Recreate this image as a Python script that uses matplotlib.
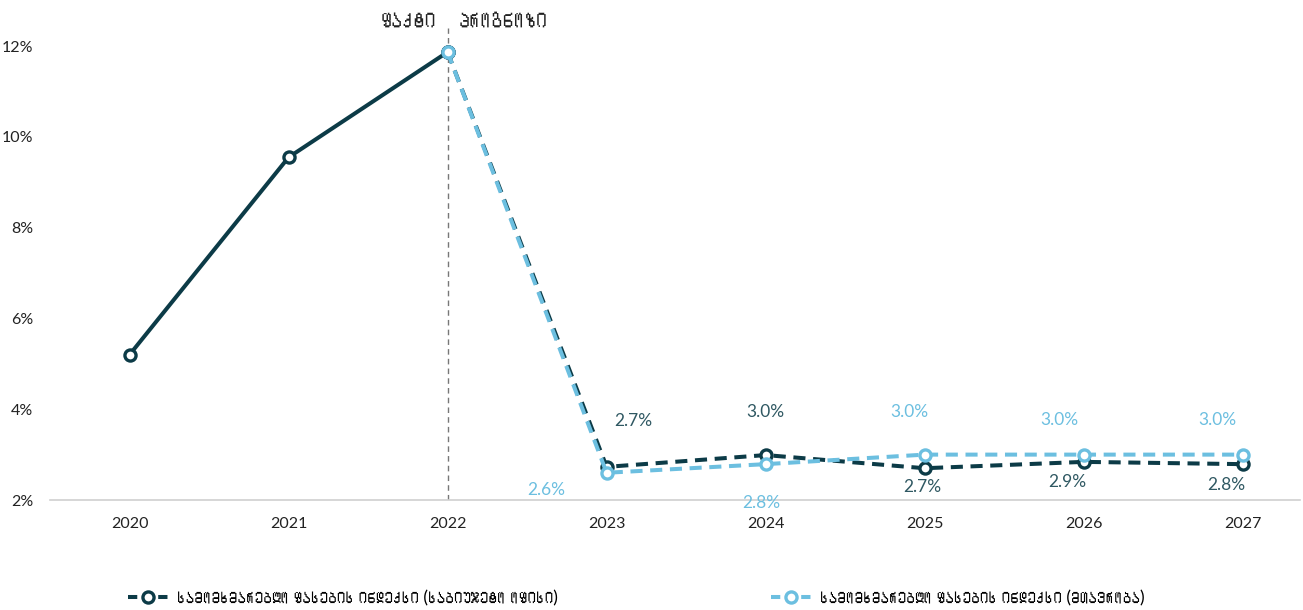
import matplotlib
matplotlib.use("Agg")
import matplotlib.pyplot as plt
from matplotlib import font_manager
from matplotlib.ft2font import FT2Font
from matplotlib.lines import Line2D

# Data
years = ["2020", "2021", "2022", "2023", "2024", "2025", "2026", "2027"]
cpi_budget_office = [5.2, 9.55, 11.87, 2.73, 2.99, 2.7, 2.84, 2.79]
cpi_budget_labels = ["", "", "", "2.7%", "3.0%", "2.7%", "2.9%", "2.8%"]
cpi_government = [11.87, 2.6, 2.79, 3.0, 3.0, 3.0]
cpi_government_labels = ["", "2.6%", "2.8%", "3.0%", "3.0%", "3.0%"]
yticks = [2, 4, 6, 8, 10, 12]

fact_text = "ᲤᲐᲥᲢᲘ"
forecast_text = "ᲞᲠᲝᲒᲜᲝᲖᲘ"
legend_budget = "ᲡᲐᲛᲝᲛᲮᲛᲐᲠᲔᲑᲚᲝ ᲤᲐᲡᲔᲑᲘᲡ ᲘᲜᲓᲔᲥᲡᲘ (ᲡᲐᲑᲘᲣᲯᲔᲢᲝ ᲝᲤᲘᲡᲘ)"
legend_gov = "ᲡᲐᲛᲝᲛᲮᲛᲐᲠᲔᲑᲚᲝ ᲤᲐᲡᲔᲑᲘᲡ ᲘᲜᲓᲔᲥᲡᲘ (ᲛᲗᲐᲕᲠᲝᲑᲐ)"


def find_mtavruli_family():
    # look for an installed font with Georgian capitals (Mtavruli)
    for f in font_manager.fontManager.ttflist:
        try:
            if 0x1C9B in FT2Font(f.fname).get_charmap():
                return f.name
        except Exception:
            pass
    return None


mtav_family = find_mtavruli_family()


def georgian(s):
    # no Mtavruli font: write the same letters in Mkhedruli
    if mtav_family:
        return s
    return "".join(chr(ord(c) - 0xBC0) if 0x1C90 <= ord(c) <= 0x1CBA else c for c in s)


DARK = "#0c3b47"
LIGHT = "#6cbfe0"
DARK_LBL = "#2f5862"
LW = 2.9

families = ["Lato", "DejaVu Sans"]
if mtav_family:
    families.insert(1, mtav_family)
plt.rcParams["font.family"] = families

fig = plt.figure(figsize=(13.03, 6.10), dpi=100)
ax = fig.add_axes([50 / 1303, 1 - 500 / 610, 1250 / 1303, 472 / 610])

x = list(range(len(years)))
x_fact = x[:3]
x_fc = x[2:]

marker_kw = dict(marker="o", markersize=8, markerfacecolor="white", markeredgewidth=2.4)

ax.plot(x_fact, cpi_budget_office[:3], color=DARK, lw=LW, **marker_kw,
        markeredgecolor=DARK, solid_capstyle="butt", zorder=3)
ax.plot(x_fc, cpi_budget_office[2:], color=DARK, lw=LW, dashes=(3.0, 1.9),
        **marker_kw, markeredgecolor=DARK, zorder=3)
ax.plot(x_fc, cpi_government, color=LIGHT, lw=LW, dashes=(3.0, 1.9),
        **marker_kw, markeredgecolor=LIGHT, zorder=4)

# Data labels (pixel offsets)
dark_off = [None, None, None, (27, 46), (0, 43), (-2, -19), (-16, -20), (-16, -21)]
for xi, v, lab, off in zip(x, cpi_budget_office, cpi_budget_labels, dark_off):
    if lab:
        ax.annotate(lab, (xi, v), xytext=off, textcoords="offset pixels",
                    ha="center", va="center", fontsize=12.5, color=DARK_LBL)
light_off = [None, (-60, -17), (-4, -39), (-15, 43), (-24, 35), (-25, 35)]
for xi, v, lab, off in zip(x_fc, cpi_government, cpi_government_labels, light_off):
    if lab:
        ax.annotate(lab, (xi, v), xytext=off, textcoords="offset pixels",
                    ha="center", va="center", fontsize=12.5, color=LIGHT)

# fact / forecast divider
ax.axvline(2, color="#777777", lw=1.0, dashes=(4, 3), zorder=1)
ax.text(1.93, 12.57, georgian(fact_text), ha="right", va="center", fontsize=16, color="#222222")
ax.text(2.07, 12.57, georgian(forecast_text), ha="left", va="center", fontsize=16, color="#222222")

ax.set_xlim(-0.5, 7.36)
ax.set_ylim(2, 12.4)
ax.set_xticks(x)
ax.set_xticklabels(years)
ax.set_yticks(yticks)
ax.set_yticklabels([f"{t}%" for t in yticks])
ax.tick_params(axis="both", length=0, labelsize=11.5, colors="#222222")
ax.tick_params(axis="x", pad=12)
ax.tick_params(axis="y", pad=12)
for s in ["top", "right", "left"]:
    ax.spines[s].set_visible(False)
ax.spines["bottom"].set_color("#d0d0d0")
ax.spines["bottom"].set_linewidth(1.2)

# legend handles: dash - marker - dash
handle_kw = dict(lw=LW, dashes=(2.3, 5.2), **marker_kw)
h_dark = Line2D([], [], color=DARK, markeredgecolor=DARK, **handle_kw)
h_light = Line2D([], [], color=LIGHT, markeredgecolor=LIGHT, **handle_kw)
fig.legend([h_dark, h_light], [georgian(legend_budget), georgian(legend_gov)], loc="center",
           bbox_to_anchor=(0.4885, 1 - 598 / 610), ncol=2, frameon=False,
           fontsize=12.5, handlelength=2.3, columnspacing=12.3, handletextpad=0.5)

fig.savefig("out.png", dpi=100)
